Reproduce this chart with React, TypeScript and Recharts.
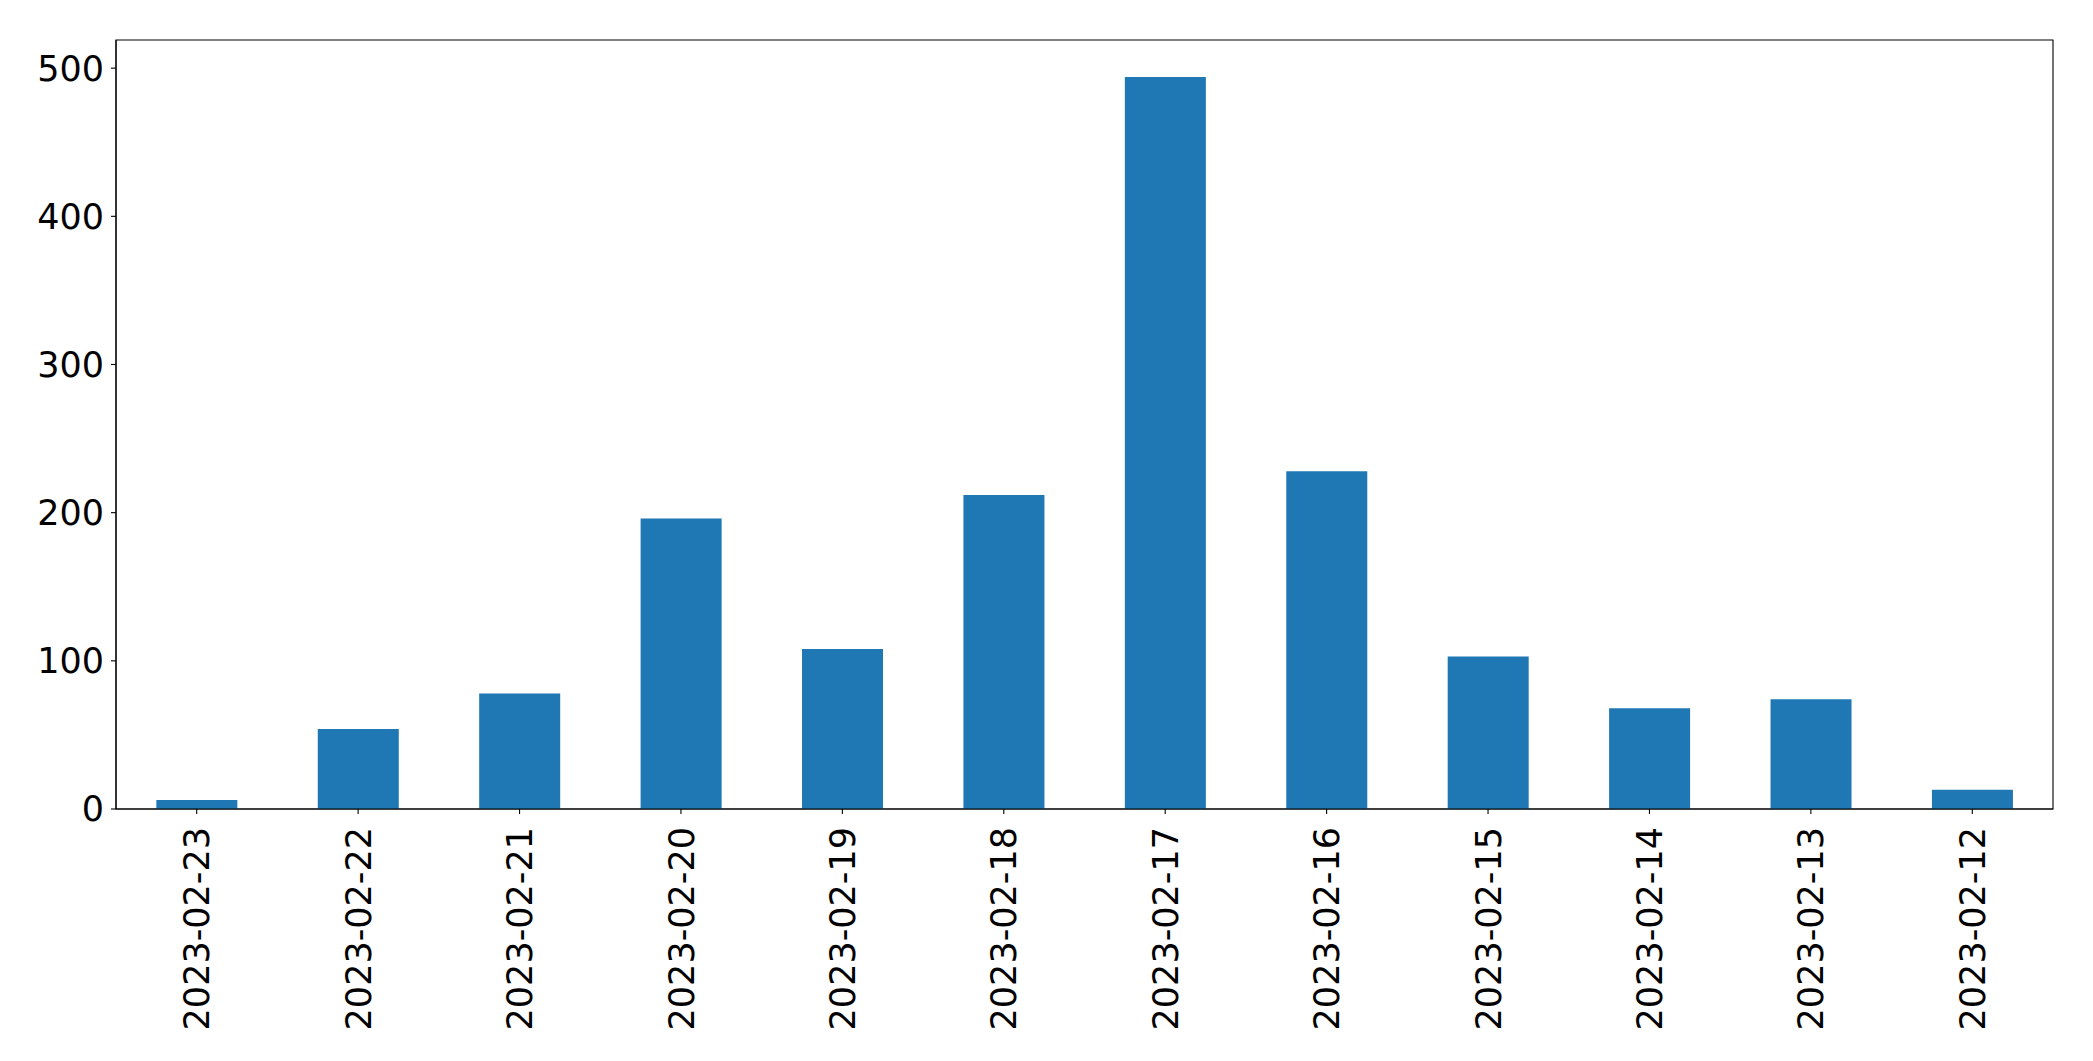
import React from 'react';
import { BarChart, Bar, XAxis, YAxis, ReferenceArea } from 'recharts';

const dates = [
    '2023-02-23',
    '2023-02-22',
    '2023-02-21',
    '2023-02-20',
    '2023-02-19',
    '2023-02-18',
    '2023-02-17',
    '2023-02-16',
    '2023-02-15',
    '2023-02-14',
    '2023-02-13',
    '2023-02-12',
];
const counts = [6, 54, 78, 196, 108, 212, 494, 228, 103, 68, 74, 13];
const yTicks = [0, 100, 200, 300, 400, 500];
const yMax = 519;

const data = dates.map((d, i) => ({ date: d, count: counts[i] }));

const FONT = '"DejaVu Sans", sans-serif';
const FONT_SIZE = 35;

const DateTick = ({ x, y, payload }: { x?: number; y?: number; payload?: { value: string } }) => (
    <text
        x={x}
        y={y}
        dy="0.36em"
        textAnchor="end"
        transform={`rotate(-90, ${x}, ${y})`}
        fontSize={FONT_SIZE}
        fontFamily={FONT}
        fill="#000"
    >
        {payload?.value}
    </text>
);

export default function App() {
    return (
        <div style={{ position: 'absolute', top: 0, left: 0, width: 2093, height: 1061, background: '#fff' }}>
            <BarChart
                width={2093}
                height={1061}
                data={data}
                margin={{ top: 40, right: 40, bottom: 0, left: 0 }}
                barCategoryGap="25%"
            >
                <XAxis
                    dataKey="date"
                    height={252}
                    interval={0}
                    tickSize={5}
                    tickMargin={13}
                    axisLine={{ stroke: '#000', strokeWidth: 1.1 }}
                    tickLine={{ stroke: '#000', strokeWidth: 1.1 }}
                    tick={<DateTick />}
                />
                <YAxis
                    width={116}
                    domain={[0, yMax]}
                    ticks={yTicks}
                    allowDataOverflow
                    tickSize={5}
                    tickMargin={7}
                    axisLine={{ stroke: '#000', strokeWidth: 1.1 }}
                    tickLine={{ stroke: '#000', strokeWidth: 1.1 }}
                    tick={{ fontSize: FONT_SIZE, fontFamily: FONT, fill: '#000' }}
                />
                <Bar dataKey="count" fill="#1f77b4" isAnimationActive={false} />
                {/* frame round the plot area */}
                <ReferenceArea
                    y1={0}
                    y2={yMax}
                    fill="none"
                    fillOpacity={0}
                    stroke="#000"
                    strokeWidth={1.1}
                    ifOverflow="visible"
                />
            </BarChart>
        </div>
    );
}
